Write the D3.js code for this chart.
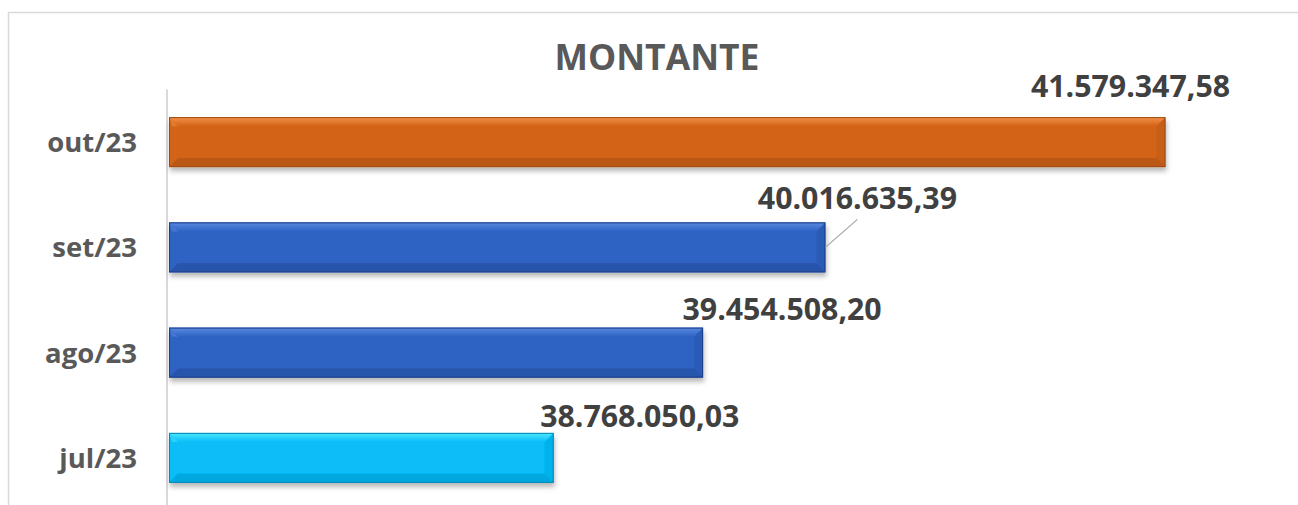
<!DOCTYPE html>
<html lang="pt">
<head>
    <meta charset="UTF-8">
    <title>MONTANTE</title>
    <script src="https://cdn.jsdelivr.net/npm/d3@7"></script>
    <style>
        body { margin: 0; background: #fff; }
        text { font-family: "Open Sans", "Noto Sans", sans-serif; font-weight: bold; }
        .cat { fill: #595959; font-size: 27.5px; }
        .val { fill: #404040; font-size: 30.3px; }
        .title { fill: #595959; font-size: 35.5px; }
    </style>
</head>
<body>
<svg width="1298" height="505"></svg>

<script>
    // data, chronological order
    const months = ["jul/23", "ago/23", "set/23", "out/23"];
    const amounts = [38768050.03, 39454508.20, 40016635.39, 41579347.58];
    const labels = ["38.768.050,03", "39.454.508,20", "40.016.635,39", "41.579.347,58"];

    // look of each bar (main, light, dark)
    const palette = [
        ["#07bdf8", "#4ee8ff", "#0589b8"],
        ["#2f63c4", "#5a8be0", "#1d3f86"],
        ["#2f63c4", "#5a8be0", "#1d3f86"],
        ["#d36316", "#f4924a", "#9b4a14"]
    ];
    // hand-moved data labels: [dx from bar end, baseline from bar top]
    const labelShift = [[86, -6], [79, -8], [32, -13], [-35, -20]];
    const withLeader = [false, false, true, false];

    const svg = d3.select("svg");

    const x = d3.scaleLinear().domain([37000000, 42000000]).range([169, 1257]);
    const y = d3.scaleBand().domain(months.slice().reverse()).range([89.5, 510.5]).paddingInner(0.525).paddingOuter(0.2625);

    const rows = months.map((m, i) => ({
        month: m, value: amounts[i], label: labels[i],
        col: palette[i], shift: labelShift[i], leader: withLeader[i]
    }));

    // chart frame
    svg.append("rect")
        .attr("x", 8.5).attr("y", 12.5)
        .attr("width", 1310).attr("height", 520)
        .attr("fill", "none").attr("stroke", "#d9d9d9").attr("stroke-width", 1.5);

    const defs = svg.append("defs");
    const shadow = defs.append("filter").attr("id", "shadow")
        .attr("x", "-5%").attr("y", "-20%").attr("width", "110%").attr("height", "160%");
    shadow.append("feDropShadow")
        .attr("dx", 1).attr("dy", 4).attr("stdDeviation", 2.5)
        .attr("flood-color", "#000").attr("flood-opacity", 0.28);

    rows.forEach((d, i) => {
        const g = defs.append("linearGradient").attr("id", "top" + i)
            .attr("x1", 0).attr("y1", 0).attr("x2", 0).attr("y2", 1);
        g.append("stop").attr("offset", "0%").attr("stop-color", d.col[1]);
        g.append("stop").attr("offset", "100%").attr("stop-color", d.col[0]);
    });

    svg.append("text").attr("class", "title")
        .attr("x", 657).attr("y", 70)
        .attr("text-anchor", "middle")
        .text("MONTANTE");

    // category axis line
    svg.append("line")
        .attr("x1", 167).attr("x2", 167)
        .attr("y1", y.range()[0]).attr("y2", 505)
        .attr("stroke", "#d9d9d9").attr("stroke-width", 2);

    const b = 9; // bevel size

    const bars = svg.selectAll("g.bar")
        .data(rows)
        .join("g").attr("class", "bar")
        .attr("filter", "url(#shadow)");

    bars.each(function(d, i) {
        const g = d3.select(this);
        const x0 = x(37000000), x1 = x(d.value);
        const y0 = y(d.month), y1 = y0 + y.bandwidth();
        const pts = a => a.map(p => p.join(",")).join(" ");

        g.append("rect")
            .attr("x", x0).attr("y", y0)
            .attr("width", x1 - x0).attr("height", y1 - y0)
            .attr("fill", d.col[0]);
        // top bevel
        g.append("polygon")
            .attr("points", pts([[x0, y0], [x1, y0], [x1 - b, y0 + b], [x0 + b, y0 + b]]))
            .attr("fill", "url(#top" + i + ")");
        // left bevel
        g.append("polygon")
            .attr("points", pts([[x0, y0], [x0 + b, y0 + b], [x0 + 3, y0 + b]]))
            .attr("fill", d.col[1]).attr("opacity", 0.5);
        // right bevel
        g.append("polygon")
            .attr("points", pts([[x1, y0], [x1 - b, y0 + b], [x1 - b, y1 - b], [x1, y1]]))
            .attr("fill", d.col[2]).attr("opacity", 0.2);
        // bottom bevel
        g.append("polygon")
            .attr("points", pts([[x0, y1], [x1, y1], [x1 - b, y1 - b], [x0 + b, y1 - b]]))
            .attr("fill", d.col[2]).attr("opacity", 0.4);
        g.append("rect")
            .attr("x", x0 + 0.5).attr("y", y0 + 0.5)
            .attr("width", x1 - x0 - 1).attr("height", y1 - y0 - 1)
            .attr("fill", "none").attr("stroke", d.col[2]).attr("stroke-width", 1);
    });

    // category labels
    svg.selectAll("text.cat")
        .data(rows)
        .join("text").attr("class", "cat")
        .attr("x", 137)
        .attr("y", d => y(d.month) + y.bandwidth() / 2 + 10)
        .attr("text-anchor", "end")
        .text(d => d.month);

    // leader lines
    svg.selectAll("line.leader")
        .data(rows.filter(d => d.leader))
        .join("line").attr("class", "leader")
        .attr("x1", d => x(d.value)).attr("y1", d => y(d.month) + y.bandwidth() / 2)
        .attr("x2", d => x(d.value) + d.shift[0]).attr("y2", d => y(d.month) + d.shift[1] + 10)
        .attr("stroke", "#a6a6a6").attr("stroke-width", 1.2);

    // data labels
    svg.selectAll("text.val")
        .data(rows)
        .join("text").attr("class", "val")
        .attr("x", d => x(d.value) + d.shift[0])
        .attr("y", d => y(d.month) + d.shift[1])
        .attr("text-anchor", "middle")
        .text(d => d.label);
</script>
</body>
</html>
